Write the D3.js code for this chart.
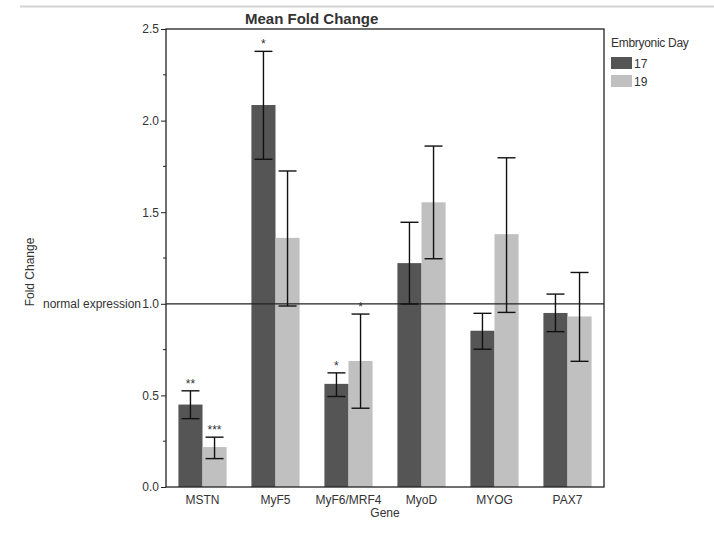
<!DOCTYPE html>
<html lang="en">
  <head>
    <meta charset="UTF-8" />
    <title>Mean Fold Change</title>
    <style>
      body { margin: 0; background: #fff; }
      svg text { font-family: "Liberation Sans", Arial, sans-serif; fill: #333; }
    </style>
  </head>
  <body>
    <div id="chart"></div>

    <script src="https://cdn.jsdelivr.net/npm/d3@7"></script>
    <script>
      // data
      var genes = ["MSTN", "MyF5", "MyF6/MRF4", "MyoD", "MYOG", "PAX7"];
      var days = ["17", "19"];
      var mean17 = [0.45, 2.085, 0.563, 1.222, 0.853, 0.95];
      var mean19 = [0.218, 1.36, 0.688, 1.554, 1.38, 0.931];
      var low17 = [0.373, 1.789, 0.494, 0.999, 0.752, 0.848];
      var high17 = [0.525, 2.378, 0.623, 1.445, 0.948, 1.053];
      var low19 = [0.155, 0.988, 0.43, 1.246, 0.953, 0.686];
      var high19 = [0.272, 1.725, 0.944, 1.861, 1.797, 1.171];
      var stars17 = ["**", "*", "*", "", "", ""];
      var stars19 = ["***", "", "*", "", "", ""];
      var yTicks = [0, 0.5, 1.0, 1.5, 2.0, 2.5];
      var refValue = 1.0;

      var w = 714, h = 539;
      var margin = { top: 29, right: 110, bottom: 52, left: 166 };

      var rows = [];
      genes.forEach(function(g, i) {
        rows.push({ gene: g, day: "17", mean: mean17[i], lo: low17[i], hi: high17[i], star: stars17[i] });
        rows.push({ gene: g, day: "19", mean: mean19[i], lo: low19[i], hi: high19[i], star: stars19[i] });
      });

      var color = d3.scaleOrdinal().domain(days).range(["#555555", "#c0c0c0"]);

      var svg = d3.select("#chart").append("svg")
        .attr("width", w)
        .attr("height", h);

      // thin grey separator at the very top
      svg.append("line")
        .attr("x1", 20).attr("x2", w)
        .attr("y1", 6.5).attr("y2", 6.5)
        .attr("stroke", "#d4d4d4")
        .attr("stroke-width", 2);

      var xScale = d3.scaleBand()
        .domain(genes)
        .range([margin.left, w - margin.right])
        .paddingInner(0.34)
        .paddingOuter(0.17);
      var xSub = d3.scaleBand()
        .domain(days)
        .range([0, xScale.bandwidth()]);
      var yScale = d3.scaleLinear()
        .domain([0, 2.5])
        .range([h - margin.bottom, margin.top]);

      // bars
      svg.selectAll("rect.bar")
        .data(rows)
        .enter()
        .append("rect")
        .attr("class", "bar")
        .attr("x", function(d) { return xScale(d.gene) + xSub(d.day); })
        .attr("y", function(d) { return yScale(d.mean); })
        .attr("width", xSub.bandwidth())
        .attr("height", function(d) { return yScale(0) - yScale(d.mean); })
        .attr("fill", function(d) { return color(d.day); });

      // reference line
      svg.append("line")
        .attr("x1", margin.left).attr("x2", w - margin.right)
        .attr("y1", yScale(refValue)).attr("y2", yScale(refValue))
        .attr("stroke", "#222")
        .attr("stroke-width", 1.3);

      // error bars
      var capW = 9;
      var eb = svg.selectAll("g.err")
        .data(rows)
        .enter()
        .append("g")
        .attr("class", "err")
        .attr("stroke", "#111")
        .attr("stroke-width", 1.4);
      function cx(d) { return xScale(d.gene) + xSub(d.day) + xSub.bandwidth() / 2; }
      eb.append("line")
        .attr("x1", cx).attr("x2", cx)
        .attr("y1", function(d) { return yScale(d.lo); })
        .attr("y2", function(d) { return yScale(d.hi); });
      eb.append("line")
        .attr("x1", function(d) { return cx(d) - capW; })
        .attr("x2", function(d) { return cx(d) + capW; })
        .attr("y1", function(d) { return yScale(d.lo); })
        .attr("y2", function(d) { return yScale(d.lo); });
      eb.append("line")
        .attr("x1", function(d) { return cx(d) - capW; })
        .attr("x2", function(d) { return cx(d) + capW; })
        .attr("y1", function(d) { return yScale(d.hi); })
        .attr("y2", function(d) { return yScale(d.hi); });

      // significance stars
      svg.selectAll("text.star")
        .data(rows.filter(function(d) { return d.star; }))
        .enter()
        .append("text")
        .attr("class", "star")
        .attr("x", cx)
        .attr("y", function(d) { return yScale(d.hi) + 1; })
        .attr("text-anchor", "middle")
        .style("font-size", "12px")
        .attr("dy", "-0.35em")
        .text(function(d) { return d.star; });

      // frame
      svg.append("rect")
        .attr("x", margin.left)
        .attr("y", margin.top)
        .attr("width", w - margin.left - margin.right)
        .attr("height", h - margin.top - margin.bottom)
        .attr("fill", "none")
        .attr("stroke", "#222")
        .attr("stroke-width", 1.3);

      // axes
      var yAxis = d3.axisLeft(yScale)
        .tickValues(yTicks)
        .tickFormat(d3.format(".1f"))
        .tickSize(5)
        .tickPadding(2);
      var gy = svg.append("g")
        .attr("transform", "translate(" + margin.left + ",0)")
        .call(yAxis);
      gy.select(".domain").remove();
      gy.selectAll("text").style("font-size", "12px").attr("fill", "#333");
      gy.selectAll("line").attr("stroke", "#222");
      // minor ticks
      gy.selectAll("line.minor")
        .data(d3.range(0.25, 2.5, 0.5))
        .enter()
        .append("line")
        .attr("class", "minor")
        .attr("x1", -3).attr("x2", 0)
        .attr("y1", function(d) { return yScale(d); })
        .attr("y2", function(d) { return yScale(d); })
        .attr("stroke", "#222");

      var xAxis = d3.axisBottom(xScale).tickSize(0).tickPadding(8);
      var gx = svg.append("g")
        .attr("transform", "translate(0," + (h - margin.bottom) + ")")
        .call(xAxis);
      gx.select(".domain").remove();
      gx.selectAll("text").style("font-size", "12px").attr("fill", "#333");

      // labels
      svg.append("text")
        .attr("x", 245)
        .attr("y", 24)
        .style("font-size", "15px")
        .style("font-weight", "bold")
        .attr("fill", "#111")
        .text("Mean Fold Change");
      svg.append("text")
        .attr("x", (margin.left + w - margin.right) / 2)
        .attr("y", 517)
        .attr("text-anchor", "middle")
        .style("font-size", "12px")
        .text("Gene");
      svg.append("text")
        .attr("transform", "translate(34," + 272 + ")rotate(-90)")
        .attr("text-anchor", "middle")
        .style("font-size", "12px")
        .text("Fold Change");
      svg.append("text")
        .attr("x", margin.left - 25)
        .attr("y", yScale(refValue) + 4)
        .attr("text-anchor", "end")
        .style("font-size", "12px")
        .text("normal expression");

      // legend
      var legend = svg.append("g").attr("transform", "translate(611,0)");
      legend.append("text")
        .attr("x", 0).attr("y", 47)
        .style("font-size", "12px")
        .style("letter-spacing", "-0.3px")
        .text("Embryonic Day");
      var li = legend.selectAll("g.item")
        .data(days)
        .enter()
        .append("g")
        .attr("class", "item")
        .attr("transform", function(d, i) { return "translate(0," + (57 + i * 18) + ")"; });
      li.append("rect")
        .attr("width", 21).attr("height", 12)
        .attr("fill", function(d) { return color(d); });
      li.append("text")
        .attr("x", 23).attr("y", 11)
        .style("font-size", "12px")
        .text(function(d) { return d; });
    </script>
  </body>
</html>
